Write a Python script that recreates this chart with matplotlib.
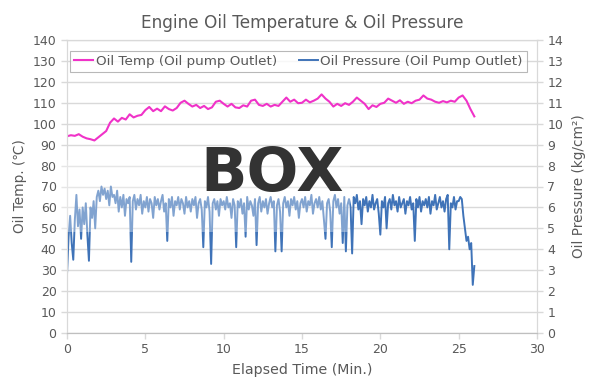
import numpy as np
import matplotlib
matplotlib.use("Agg")
import matplotlib.pyplot as plt
from matplotlib.patches import Rectangle

plt.rcParams['font.family'] = ['DejaVu Sans']

title = "Engine Oil Temperature & Oil Pressure"
x_label = "Elapsed Time (Min.)"
y_label_left = "Oil Temp. (℃)"
y_label_right = "Oil Pressure (kg/cm²)"
temp_label = "Oil Temp (Oil pump Outlet)"
press_label = "Oil Pressure (Oil Pump Outlet)"

# Oil temperature, sampled every 0.25 min from 0 to 26 min
temp_values = [
    94.0, 94.5, 94.2, 95.0, 93.8, 93.0, 92.6, 92.0, 93.5, 95.0,
    96.5, 100.5, 102.5, 101.0, 102.8, 102.0, 104.5, 103.0, 103.8, 104.2,
    106.5, 108.0, 106.0, 107.2, 106.0, 108.3, 107.0, 106.3, 107.5, 110.0,
    111.0, 109.5, 108.2, 109.0, 107.5, 108.5, 107.0, 107.8, 110.5, 111.0,
    109.5, 108.2, 109.5, 107.8, 107.5, 108.8, 108.2, 111.0, 111.5, 109.0,
    108.5, 109.5, 108.2, 109.0, 108.5, 110.5, 112.5, 110.5, 111.5, 109.8,
    110.0, 111.5, 110.2, 111.0, 112.0, 114.0, 112.0, 110.5, 108.2, 109.5,
    108.5, 109.8, 109.0, 110.5, 112.5, 111.0, 109.5, 107.0, 108.8, 108.0,
    109.5, 110.0, 112.0, 111.0, 110.0, 111.2, 109.5, 110.5, 109.8, 111.0,
    111.5, 113.5, 112.0, 111.5, 110.5, 110.0, 110.8, 110.2, 111.0, 110.5,
    112.5, 113.5, 111.0, 107.0, 103.5,
]
temp_time = np.linspace(0, 26.0, len(temp_values))

# Oil pressure, sampled every 0.1 min from 0 to 26 min
press_values = [
    2.8, 4.6, 5.6, 4.3, 3.5, 5.4, 6.6, 5.1, 5.9, 4.5,
    6.0, 5.2, 6.2, 4.7, 3.45, 6.0, 5.5, 6.3, 5.0, 6.5,
    6.8, 6.3, 7.0, 6.6, 6.9, 6.4, 6.8, 6.1, 7.0, 6.5,
    6.6, 6.2, 6.8, 5.8, 6.5, 6.0, 6.6, 5.6, 6.4, 6.2,
    6.5, 3.4, 6.3, 6.6, 5.9, 6.4, 6.1, 6.6, 5.7, 6.3,
    6.0, 6.5, 5.8, 6.4, 6.2, 5.5, 6.5, 6.1, 6.4, 5.9,
    6.3, 6.6, 5.8, 6.2, 4.4, 6.4, 6.0, 6.5, 5.6, 6.3,
    6.1, 6.5, 5.9, 6.4, 6.2, 5.7, 6.5, 6.0, 6.3, 5.8,
    6.4, 6.1, 6.5, 5.5, 6.2, 6.4, 5.9, 4.1, 6.3, 6.0,
    6.5, 5.8, 3.3, 6.2, 6.4, 5.9, 6.3, 5.6, 6.4, 6.1,
    6.3, 5.9, 6.5, 6.0, 6.2, 5.5, 6.4, 6.1, 4.1, 6.3,
    6.0, 6.4, 5.7, 6.2, 4.6, 6.5, 5.9, 6.3, 6.1, 5.6,
    6.4, 4.2, 6.2, 6.5, 5.8, 6.3, 6.0, 6.4, 5.7, 6.2,
    6.5, 6.0, 6.3, 3.9, 6.1, 6.4, 5.8, 3.9, 6.2, 6.5,
    6.0, 6.3, 5.6, 6.4, 6.1, 6.5, 5.9, 6.3, 5.5, 6.2,
    6.4, 6.0, 6.5, 5.8, 6.3, 6.1, 6.6, 5.7, 6.2, 6.4,
    6.0, 6.5, 5.9, 6.3, 5.4, 4.5, 6.2, 6.4, 5.8, 4.1,
    6.3, 6.6, 6.0, 6.4, 5.7, 6.2, 4.3, 6.5, 3.9, 6.1,
    6.4, 6.0, 3.8, 6.5, 6.2, 6.6, 5.9, 6.3, 5.2, 6.4,
    6.1, 6.5, 5.8, 6.3, 6.0, 6.6, 5.9, 6.2, 6.4, 5.7,
    4.7, 6.3, 6.0, 6.5, 5.0, 6.2, 6.4, 5.9, 6.6, 6.1,
    6.3, 5.8, 6.5, 6.0, 6.2, 6.4, 5.7, 6.3, 6.1, 6.5,
    5.9, 6.2, 4.4, 6.4, 6.0, 6.5, 5.8, 6.3, 6.1, 6.4,
    6.0, 6.5, 5.7, 6.3, 6.1, 6.6, 5.9, 6.2, 6.5, 6.0,
    6.3, 5.8, 6.4, 6.6, 4.0, 6.2, 6.0, 6.5, 5.9, 6.3,
    6.3, 6.5, 6.4, 5.6, 5.0, 4.4, 4.6, 4.0, 4.3, 2.3,
    3.2,
]
press_time = np.linspace(0, 26.0, len(press_values))

x_ticks = [0, 5, 10, 15, 20, 25, 30]
y_ticks_left = list(range(0, 141, 10))
y_ticks_right = list(range(0, 15, 1))

temp_color = "#F032C8"
press_color = "#3F73B8"
grid_color = "#D9D9D9"
text_color = "#595959"

fig = plt.figure(figsize=(6, 3.88), dpi=100)
ax = fig.add_axes([67/600, 1-333/388, 470/600, 293/388])
ax2 = ax.twinx()

ax.set_xlim(0, 30)
ax.set_ylim(0, 140)
ax2.set_ylim(0, 14)
ax.set_xticks(x_ticks)
ax.set_yticks(y_ticks_left)
ax2.set_yticks(y_ticks_right)

ax.yaxis.grid(True, color=grid_color, lw=1)
ax.set_axisbelow(True)

l1, = ax.plot(temp_time, temp_values, color=temp_color, lw=1.5, label=temp_label)
l2, = ax2.plot(press_time, press_values, color=press_color, lw=1.4, label=press_label)

for a in (ax, ax2):
    for s in a.spines.values():
        s.set_color(grid_color)
    a.spines['bottom'].set_color("#BFBFBF")
    a.tick_params(colors=text_color, labelsize=9, length=4, width=1)
    a.tick_params(axis='both', color=grid_color)

ax.set_title(title, fontsize=12.2, color=text_color, pad=9)
ax.set_xlabel(x_label, fontsize=10.2, color=text_color, labelpad=5)
ax.set_ylabel(y_label_left, fontsize=9.8, color=text_color, labelpad=4)
ax2.set_ylabel(y_label_right, fontsize=9.8, color=text_color, labelpad=6)

leg = ax2.legend(handles=[l1, l2], loc='lower left', ncol=2, mode='expand',
                 bbox_to_anchor=(3/470, (333-72)/293, 457/470, 22/293),
                 frameon=True, fancybox=False, borderaxespad=0,
                 fontsize=9.7, handlelength=1.4, handletextpad=0.2,
                 columnspacing=1.5, borderpad=0.3, labelcolor=text_color)
leg.get_frame().set_edgecolor("#A6A6A6")
leg.get_frame().set_linewidth(0.8)

# occluding overlay present in the reference image
fig.patches.append(Rectangle((60/600, 1-232/388), 290/600, 72/388,
                             transform=fig.transFigure, facecolor='white',
                             alpha=0.35, edgecolor='none', zorder=5))
fig.text(272/600, 1-175/388, "BOX", fontsize=44, fontweight='bold',
         color='#333333', ha='center', va='center', zorder=6)

fig.savefig("out.png", dpi=100)
